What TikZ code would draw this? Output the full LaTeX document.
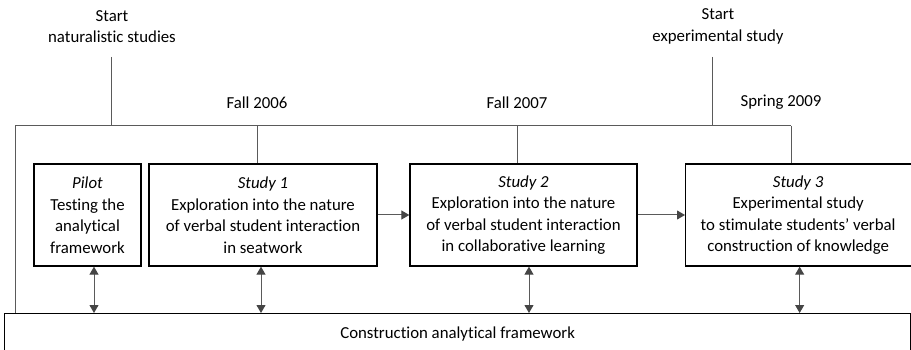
\documentclass[tikz,border=0pt]{standalone}
\usepackage{fontspec}
\setmainfont{Carlito}[Ligatures=NoCommon]
\usetikzlibrary{arrows.meta}
\definecolor{ln}{HTML}{5A5A5A}
\definecolor{tipc}{HTML}{454545}
\newcommand{\dfont}{\fontsize{16.8}{21.5}\selectfont}
\begin{document}
\begin{tikzpicture}[x=1pt,y=-1pt,
  lbl/.style={font=\dfont, align=center, inner sep=0pt},
  studybox/.style={draw=black, line width=1.3pt, minimum height=102pt, font=\dfont, align=center, inner sep=0pt},
  conn/.style={draw=ln, line width=1pt},
  tipa/.tip={Triangle[length=8pt,width=9pt,color=tipc]},
  onearrow/.style={conn, -tipa},
  twoarrow/.style={conn, tipa-tipa}
]
\useasboundingbox (0,0) rectangle (911,350);
\clip (0,0) rectangle (911,350);

% labels
\node[lbl] (sn) at (112,26.5) {Start\\naturalistic studies};
\node[lbl] (se) at (718,26.5) {Start\\experimental study};
\node[lbl] (f6) at (257,102.5) {Fall 2006};
\node[lbl] (f7) at (517,102.5) {Fall 2007};
\node[lbl] (s9) at (781,102.5) {Spring 2009};

% study boxes
\node[studybox, minimum width=107pt] (pilot) at (87.5,215)
  {\textit{Pilot}\\Testing the\\analytical\\framework};
\node[studybox, minimum width=228pt] (s1) at (263,215)
  {\textit{Study 1}\\Exploration into the nature\\of verbal student interaction\\in seatwork};
\node[studybox, minimum width=227pt] (s2) at (523.5,215)
  {\textit{Study 2}\\Exploration into the nature\\of verbal student interaction\\in collaborative learning};
\node[draw=black, line width=1.3pt, minimum height=102pt, minimum width=235pt, font=\dfont, inner sep=0pt, anchor=west] (s3) at (685,215)
  {\begin{tabular}{@{}c@{}}\textit{Study 3}\\Experimental study\\to stimulate students’ verbal\\construction of knowledge\end{tabular}\hspace*{10pt}};

% bottom box
\node[draw=black, line width=1.3pt, minimum width=906pt, minimum height=40pt, font=\dfont, inner sep=0pt, anchor=north west] (cf) at (4,313)
  {Construction analytical framework};

% timeline
\coordinate (hl) at (15,126);
\coordinate (hr) at (791,126);
\coordinate (snt) at (111,57);
\coordinate (set) at (712,57);
\draw[conn] (hl) -- (hr);
\draw[conn] (snt) -- (snt |- hl);
\draw[conn] (set) -- (set |- hl);
\draw[conn] (hl) -- (hl |- cf.north);
\draw[conn] (f6 |- hl) -- (f6 |- s1.north);
\draw[conn] (f7 |- hl) -- (f7 |- s2.north);
\draw[conn] (hr) -- (hr |- s3.north);

% arrows between studies
\draw[onearrow] (s1.east) -- (s2.west);
\draw[onearrow] (s2.east) -- (s3.west);

% double arrows to framework
\draw[twoarrow] ([xshift=6.5pt]pilot.south) -- ([xshift=6.5pt]pilot.south |- cf.north);
\draw[twoarrow] ([xshift=-2pt]s1.south) -- ([xshift=-2pt]s1.south |- cf.north);
\draw[twoarrow] ([xshift=5.5pt]s2.south) -- ([xshift=5.5pt]s2.south |- cf.north);
\draw[twoarrow] ([xshift=-3.5pt]s3.south) -- ([xshift=-3.5pt]s3.south |- cf.north);
\end{tikzpicture}
\end{document}
